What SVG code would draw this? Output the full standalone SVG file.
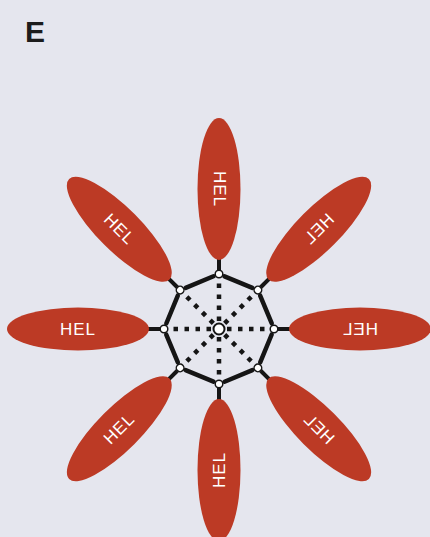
<svg xmlns="http://www.w3.org/2000/svg" xmlns:xlink="http://www.w3.org/1999/xlink" width="430" height="537" viewBox="0 0 430 537">
  <style>
    .petal { fill: #bc3a25; }
    .lbl { fill: #ffffff; font-family: "Liberation Sans", Arial, sans-serif; font-size: 17px; letter-spacing: 1px; text-anchor: middle; dominant-baseline: central; }
    .edge { stroke: #151515; stroke-width: 4.5; stroke-linecap: round; }
    .spoke { stroke: #151515; stroke-width: 4.5; stroke-dasharray: 4.5 6.5; }
    .stub { stroke: #151515; stroke-width: 4; }
    .vtx { fill: #ffffff; stroke: #151515; stroke-width: 1.5; }
  </style>
  <defs>
    <line id="edge" class="edge" x1="271.7" y1="334.5" x2="260.2" y2="362.4"/>
    <line id="spoke" class="spoke" x1="227" y1="329" x2="270" y2="329"/>
    <line id="stub" class="stub" x1="278" y1="329" x2="292" y2="329"/>
    <circle id="vtx" class="vtx" cx="274" cy="329" r="3.8"/>
  </defs>
  <rect width="430" height="537" fill="#e5e6ee"/>
  <text x="25" y="42" font-family="'Liberation Sans', Arial, sans-serif" font-weight="bold" font-size="30" fill="#1c1c1c">E</text>

  <g id="connectors">
    <use xlink:href="#edge"/>
    <use xlink:href="#edge" transform="rotate(45 219 329)"/>
    <use xlink:href="#edge" transform="rotate(90 219 329)"/>
    <use xlink:href="#edge" transform="rotate(135 219 329)"/>
    <use xlink:href="#edge" transform="rotate(180 219 329)"/>
    <use xlink:href="#edge" transform="rotate(225 219 329)"/>
    <use xlink:href="#edge" transform="rotate(270 219 329)"/>
    <use xlink:href="#edge" transform="rotate(315 219 329)"/>
    <use xlink:href="#spoke"/>
    <use xlink:href="#spoke" transform="rotate(45 219 329)"/>
    <use xlink:href="#spoke" transform="rotate(90 219 329)"/>
    <use xlink:href="#spoke" transform="rotate(135 219 329)"/>
    <use xlink:href="#spoke" transform="rotate(180 219 329)"/>
    <use xlink:href="#spoke" transform="rotate(225 219 329)"/>
    <use xlink:href="#spoke" transform="rotate(270 219 329)"/>
    <use xlink:href="#spoke" transform="rotate(315 219 329)"/>
    <use xlink:href="#stub"/>
    <use xlink:href="#stub" transform="rotate(45 219 329)"/>
    <use xlink:href="#stub" transform="rotate(90 219 329)"/>
    <use xlink:href="#stub" transform="rotate(135 219 329)"/>
    <use xlink:href="#stub" transform="rotate(180 219 329)"/>
    <use xlink:href="#stub" transform="rotate(225 219 329)"/>
    <use xlink:href="#stub" transform="rotate(270 219 329)"/>
    <use xlink:href="#stub" transform="rotate(315 219 329)"/>
  </g>

  <g id="hub">
    <use xlink:href="#vtx"/>
    <use xlink:href="#vtx" transform="rotate(45 219 329)"/>
    <use xlink:href="#vtx" transform="rotate(90 219 329)"/>
    <use xlink:href="#vtx" transform="rotate(135 219 329)"/>
    <use xlink:href="#vtx" transform="rotate(180 219 329)"/>
    <use xlink:href="#vtx" transform="rotate(225 219 329)"/>
    <use xlink:href="#vtx" transform="rotate(270 219 329)"/>
    <use xlink:href="#vtx" transform="rotate(315 219 329)"/>
    <circle cx="219" cy="329" r="5.5" fill="#ffffff" stroke="#151515" stroke-width="2"/>
  </g>

  <g id="hel-right" transform="translate(360 329)">
    <ellipse class="petal" rx="71" ry="21.5"/>
    <text class="lbl" transform="scale(-1 1)">HEL</text>
  </g>
  <g id="hel-lower-right" transform="translate(318.7 428.7)">
    <ellipse class="petal" rx="71" ry="21.5" transform="rotate(45)"/>
    <text class="lbl" transform="scale(-1 1) rotate(-45)">HEL</text>
  </g>
  <g id="hel-bottom" transform="translate(219 470)">
    <ellipse class="petal" rx="71" ry="21.5" transform="rotate(90)"/>
    <text class="lbl" transform="rotate(-90)">HEL</text>
  </g>
  <g id="hel-lower-left" transform="translate(119.3 428.7)">
    <ellipse class="petal" rx="71" ry="21.5" transform="rotate(-45)"/>
    <text class="lbl" transform="rotate(-45)">HEL</text>
  </g>
  <g id="hel-left" transform="translate(78 329)">
    <ellipse class="petal" rx="71" ry="21.5"/>
    <text class="lbl">HEL</text>
  </g>
  <g id="hel-upper-left" transform="translate(119.3 229.3)">
    <ellipse class="petal" rx="71" ry="21.5" transform="rotate(45)"/>
    <text class="lbl" transform="rotate(45)">HEL</text>
  </g>
  <g id="hel-top" transform="translate(219 189)">
    <ellipse class="petal" rx="71" ry="21.5" transform="rotate(90)"/>
    <text class="lbl" transform="rotate(90)">HEL</text>
  </g>
  <g id="hel-upper-right" transform="translate(318.7 229.3)">
    <ellipse class="petal" rx="71" ry="21.5" transform="rotate(-45)"/>
    <text class="lbl" transform="scale(-1 1) rotate(45)">HEL</text>
  </g>
</svg>
